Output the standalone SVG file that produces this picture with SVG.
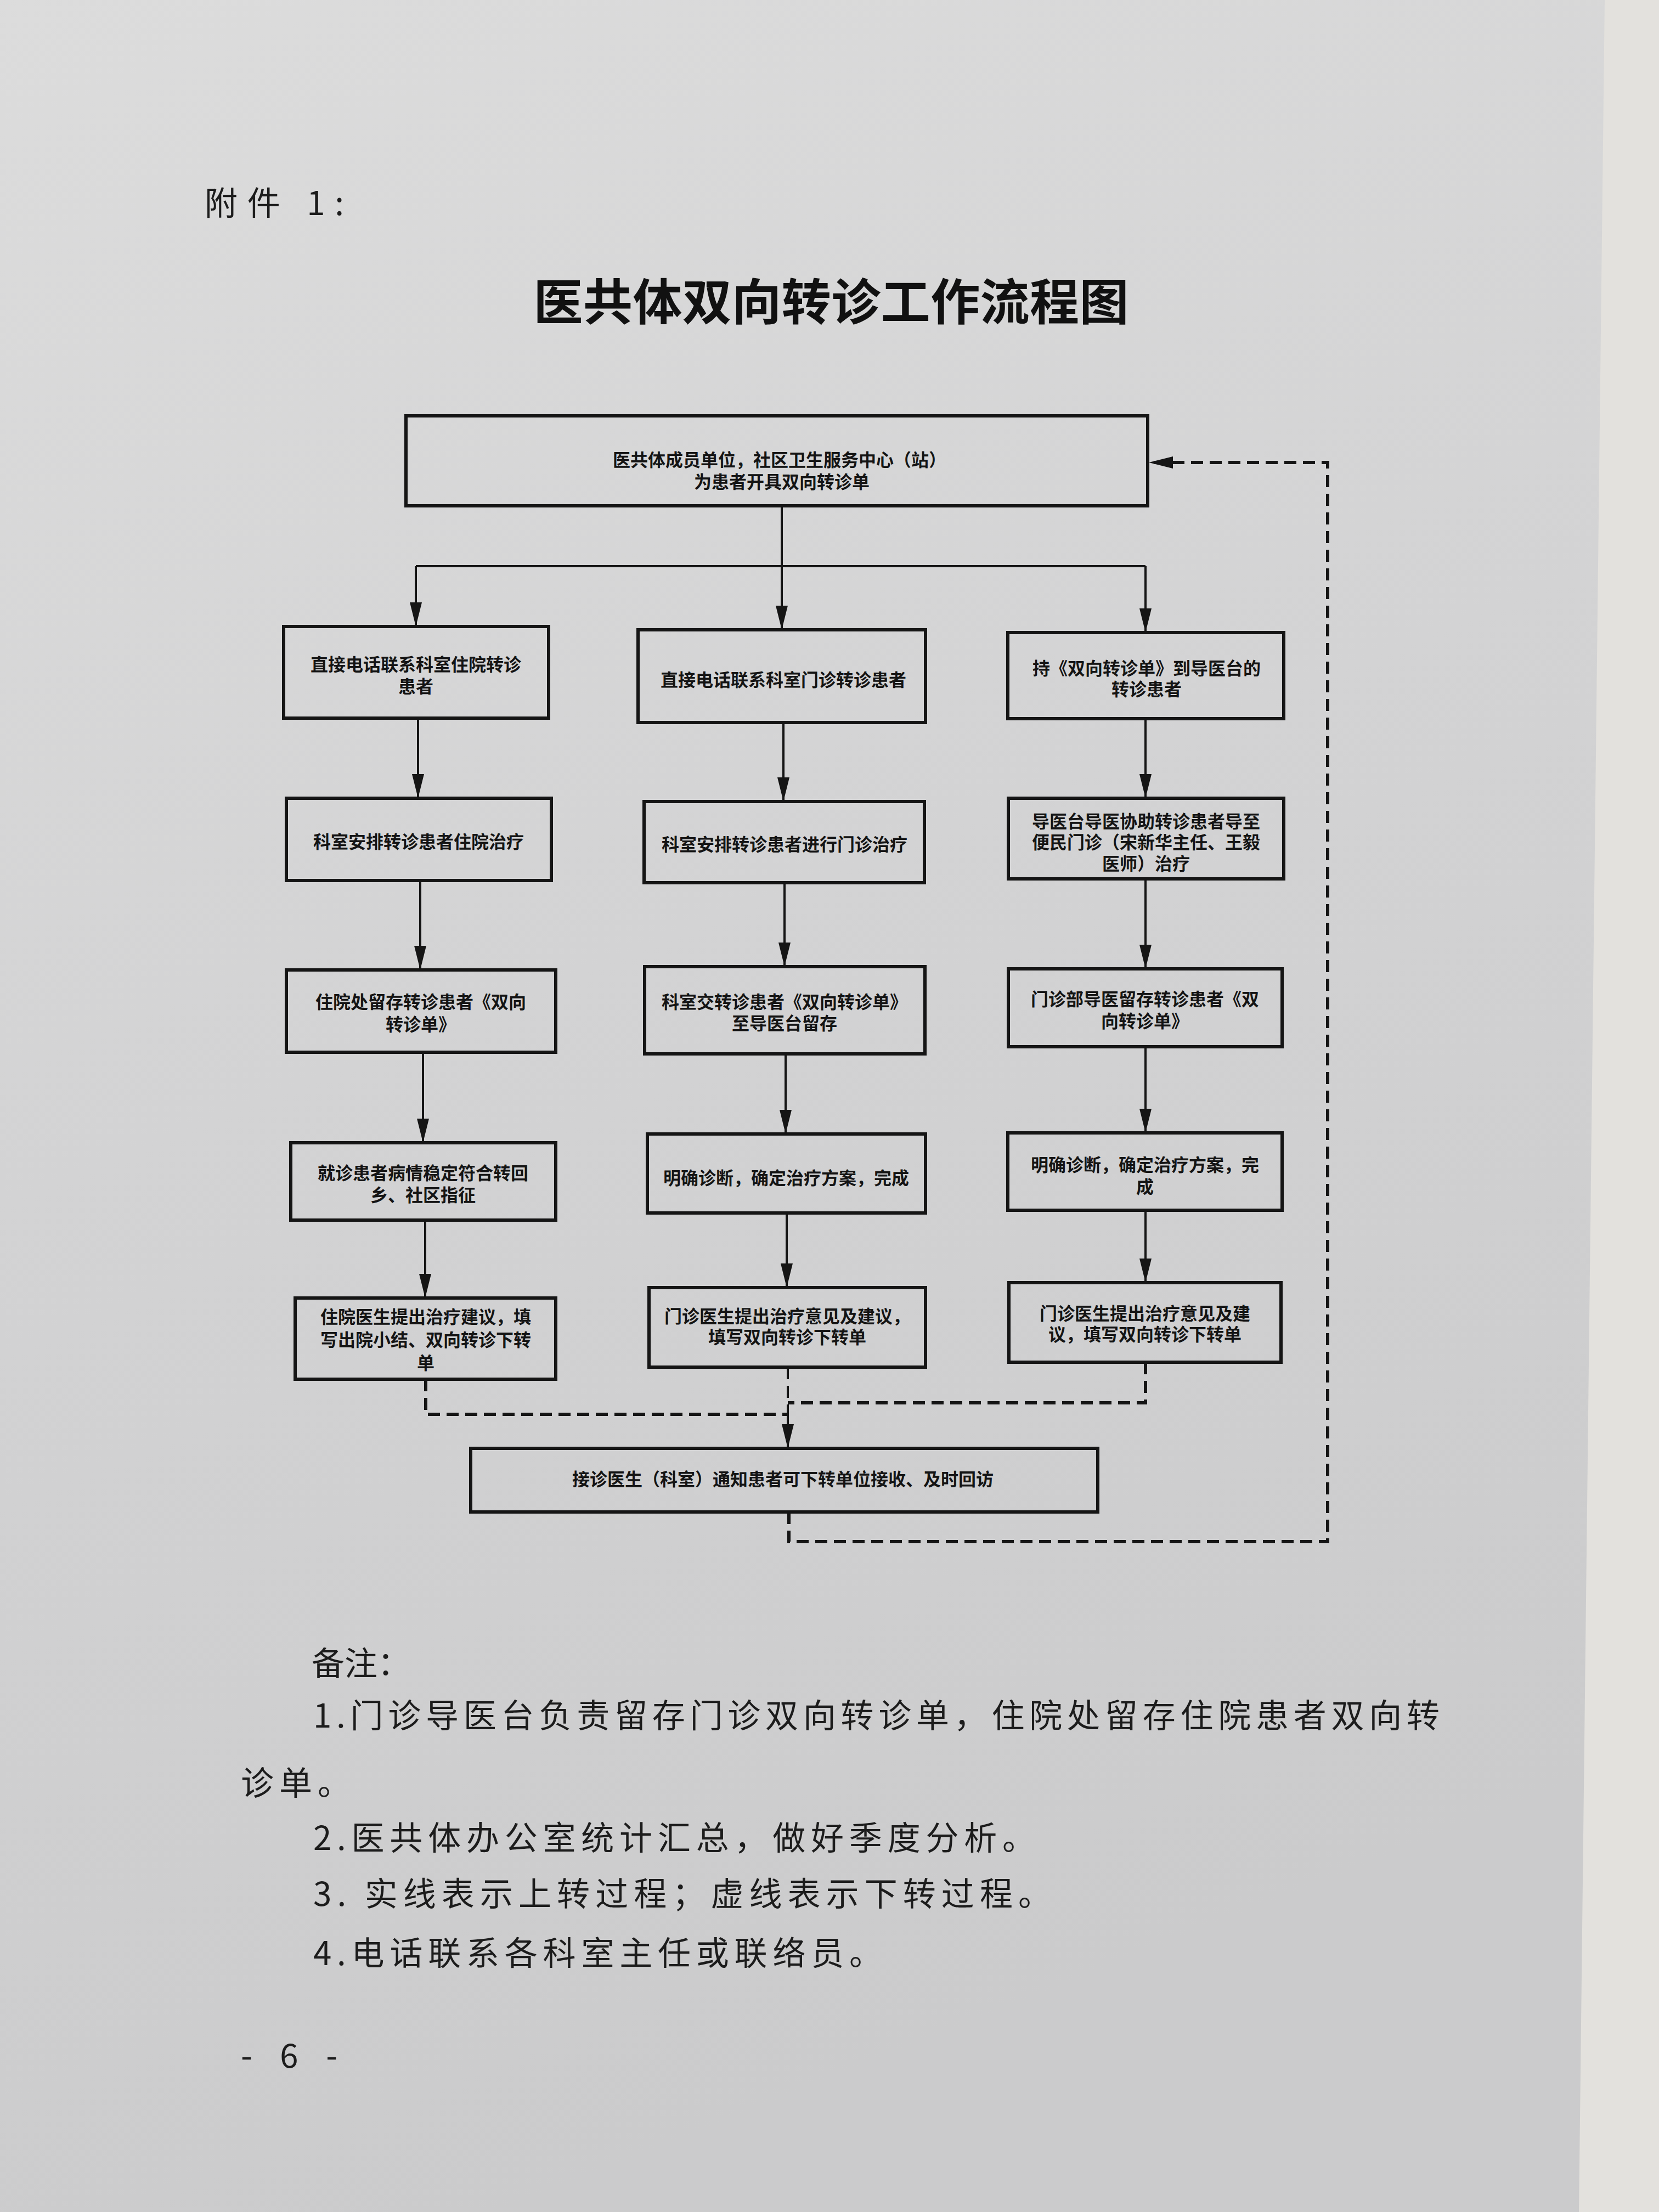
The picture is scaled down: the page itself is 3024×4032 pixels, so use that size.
<svg xmlns="http://www.w3.org/2000/svg" width="3024" height="4032" viewBox="0 0 3024 4032">
<defs>
  <linearGradient id="paper" x1="0" y1="0" x2="0.3" y2="1">
    <stop offset="0" stop-color="#dcdcdc"/>
    <stop offset="0.5" stop-color="#d3d3d4"/>
    <stop offset="1" stop-color="#cbcbcc"/>
  </linearGradient>
  <marker id="arr" markerUnits="userSpaceOnUse" markerWidth="44" markerHeight="22" refX="44" refY="11" orient="auto">
    <path d="M0,0 L44,11 L0,22 z" fill="#151515"/>
  </marker>
  <style>
    .box rect { fill: none; stroke: #151515; stroke-width: 6; }
    .box text { font-family: "Noto Sans CJK SC", "Noto Sans", sans-serif; font-weight: 700; font-size: 32px; fill: #141414; text-anchor: middle; dominant-baseline: central; }
    .solid { fill: none; stroke: #151515; stroke-width: 4; }
    .dash { fill: none; stroke: #151515; stroke-width: 6; stroke-dasharray: 22 12; }
    .note { font-family: "Noto Sans CJK SC", "Noto Sans", sans-serif; font-weight: 400; font-size: 60px; fill: #1c1c1c; dominant-baseline: central; }
  </style>
</defs>

<rect x="0" y="0" width="3024" height="4032" fill="url(#paper)"/>
<polygon points="2925,0 3024,0 3024,4032 2878,4032" fill="#e3e1dd"/>

<text class="note" x="373" y="365" font-size="72" textLength="254" lengthAdjust="spacing">附件 1:</text>
<text x="1515" y="544" font-family="Noto Sans CJK SC, Noto Sans, sans-serif" font-weight="700" font-size="90" fill="#111" text-anchor="middle" dominant-baseline="central" textLength="1085" lengthAdjust="spacing">医共体双向转诊工作流程图</text>

<g id="connectors">
  <line class="solid" x1="1425" y1="922" x2="1425" y2="1032"/>
  <line class="solid" x1="758" y1="1032" x2="2088" y2="1032"/>
  <line class="solid" x1="758" y1="1032" x2="758" y2="1142" marker-end="url(#arr)"/>
  <line class="solid" x1="1425" y1="1032" x2="1425" y2="1148" marker-end="url(#arr)"/>
  <line class="solid" x1="2088" y1="1032" x2="2088" y2="1153" marker-end="url(#arr)"/>

  <line class="solid" x1="762" y1="1309" x2="762" y2="1455" marker-end="url(#arr)"/>
  <line class="solid" x1="766" y1="1605" x2="766" y2="1768" marker-end="url(#arr)"/>
  <line class="solid" x1="771" y1="1918" x2="771" y2="2083" marker-end="url(#arr)"/>
  <line class="solid" x1="775" y1="2224" x2="775" y2="2366" marker-end="url(#arr)"/>

  <line class="solid" x1="1428" y1="1317" x2="1428" y2="1461" marker-end="url(#arr)"/>
  <line class="solid" x1="1430" y1="1609" x2="1430" y2="1762" marker-end="url(#arr)"/>
  <line class="solid" x1="1432" y1="1921" x2="1432" y2="2067" marker-end="url(#arr)"/>
  <line class="solid" x1="1434" y1="2211" x2="1434" y2="2347" marker-end="url(#arr)"/>

  <line class="solid" x1="2088" y1="1310" x2="2088" y2="1455" marker-end="url(#arr)"/>
  <line class="solid" x1="2088" y1="1602" x2="2088" y2="1766" marker-end="url(#arr)"/>
  <line class="solid" x1="2088" y1="1908" x2="2088" y2="2065" marker-end="url(#arr)"/>
  <line class="solid" x1="2088" y1="2206" x2="2088" y2="2338" marker-end="url(#arr)"/>

  <path class="dash" d="M776,2514 V2578 H1436"/>
  <path class="dash" d="M2088,2483 V2557 H1436"/>
  <path class="dash" style="stroke-width:4" d="M1436,2492 V2560"/>
  <line class="solid" x1="1436" y1="2560" x2="1436" y2="2640" marker-end="url(#arr)"/>
  <path class="dash" d="M1438,2756 V2810 H2420 V843 H2094" marker-end="url(#arr)"/>
</g>

<g id="n-top" class="box">
  <rect x="740" y="758" width="1352" height="164"/>
  <text x="1423" y="836"><tspan x="1421" y="836">医共体成员单位，社区卫生服务中心（站）</tspan><tspan x="1425" y="876">为患者开具双向转诊单</tspan></text>
</g>

<g id="n-l1" class="box">
  <rect x="517" y="1142" width="483" height="167"/>
  <text x="758" y="1209"><tspan x="758" y="1209">直接电话联系科室住院转诊</tspan><tspan x="758" y="1249">患者</tspan></text>
</g>
<g id="n-c1" class="box">
  <rect x="1163" y="1148" width="524" height="169"/>
  <text x="1428" y="1237">直接电话联系科室门诊转诊患者</text>
</g>
<g id="n-r1" class="box">
  <rect x="1837" y="1153" width="503" height="157"/>
  <text x="2090" y="1216"><tspan x="2090" y="1216">持《双向转诊单》到导医台的</tspan><tspan x="2090" y="1254">转诊患者</tspan></text>
</g>

<g id="n-l2" class="box">
  <rect x="522" y="1455" width="483" height="150"/>
  <text x="763" y="1532">科室安排转诊患者住院治疗</text>
</g>
<g id="n-c2" class="box">
  <rect x="1174" y="1461" width="511" height="148"/>
  <text x="1430" y="1537">科室安排转诊患者进行门诊治疗</text>
</g>
<g id="n-r2" class="box">
  <rect x="1838" y="1455" width="502" height="147"/>
  <text x="2089" y="1495"><tspan x="2089" y="1495">导医台导医协助转诊患者导至</tspan><tspan x="2089" y="1533">便民门诊（宋新华主任、王毅</tspan><tspan x="2089" y="1572">医师）治疗</tspan></text>
</g>

<g id="n-l3" class="box">
  <rect x="522" y="1768" width="491" height="150"/>
  <text x="767" y="1824"><tspan x="767" y="1824">住院处留存转诊患者《双向</tspan><tspan x="767" y="1865">转诊单》</tspan></text>
</g>
<g id="n-c3" class="box">
  <rect x="1175" y="1762" width="511" height="159"/>
  <text x="1430" y="1824"><tspan x="1430" y="1824">科室交转诊患者《双向转诊单》</tspan><tspan x="1430" y="1863">至导医台留存</tspan></text>
</g>
<g id="n-r3" class="box">
  <rect x="1838" y="1766" width="499" height="142"/>
  <text x="2087" y="1819"><tspan x="2087" y="1819">门诊部导医留存转诊患者《双</tspan><tspan x="2087" y="1859">向转诊单》</tspan></text>
</g>

<g id="n-l4" class="box">
  <rect x="530" y="2083" width="483" height="141"/>
  <text x="771" y="2136"><tspan x="771" y="2136">就诊患者病情稳定符合转回</tspan><tspan x="771" y="2176">乡、社区指征</tspan></text>
</g>
<g id="n-c4" class="box">
  <rect x="1180" y="2067" width="507" height="144"/>
  <text x="1433" y="2145">明确诊断，确定治疗方案，完成</text>
</g>
<g id="n-r4" class="box">
  <rect x="1837" y="2065" width="500" height="141"/>
  <text x="2087" y="2121"><tspan x="2087" y="2121">明确诊断，确定治疗方案，完</tspan><tspan x="2087" y="2161">成</tspan></text>
</g>

<g id="n-l5" class="box">
  <rect x="538" y="2366" width="475" height="148"/>
  <text x="776" y="2398"><tspan x="776" y="2398">住院医生提出治疗建议，填</tspan><tspan x="776" y="2440">写出院小结、双向转诊下转</tspan><tspan x="776" y="2482">单</tspan></text>
</g>
<g id="n-c5" class="box">
  <rect x="1183" y="2347" width="504" height="145"/>
  <text x="1435" y="2397"><tspan x="1435" y="2397">门诊医生提出治疗意见及建议，</tspan><tspan x="1435" y="2435">填写双向转诊下转单</tspan></text>
</g>
<g id="n-r5" class="box">
  <rect x="1839" y="2338" width="496" height="145"/>
  <text x="2087" y="2392"><tspan x="2087" y="2392">门诊医生提出治疗意见及建</tspan><tspan x="2087" y="2430">议，填写双向转诊下转单</tspan></text>
</g>

<g id="n-bottom" class="box">
  <rect x="858" y="2640" width="1143" height="116"/>
  <text x="1427" y="2694">接诊医生（科室）通知患者可下转单位接收、及时回访</text>
</g>

<g id="notes">
  <text class="note" x="568" y="3027">备注：</text>
  <text class="note" x="571" y="3122" textLength="2053" lengthAdjust="spacing">1.门诊导医台负责留存门诊双向转诊单，住院处留存住院患者双向转</text>
  <text class="note" x="439" y="3245" textLength="200" lengthAdjust="spacing">诊单。</text>
  <text class="note" x="571" y="3345" textLength="1316" lengthAdjust="spacing">2.医共体办公室统计汇总，做好季度分析。</text>
  <text class="note" x="571" y="3447" textLength="1345" lengthAdjust="spacing">3. 实线表示上转过程；虚线表示下转过程。</text>
  <text class="note" x="571" y="3555" textLength="1037" lengthAdjust="spacing">4.电话联系各科室主任或联络员。</text>
  <text class="note" x="439" y="3742" textLength="176" lengthAdjust="spacing">- 6 -</text>
</g>
</svg>
